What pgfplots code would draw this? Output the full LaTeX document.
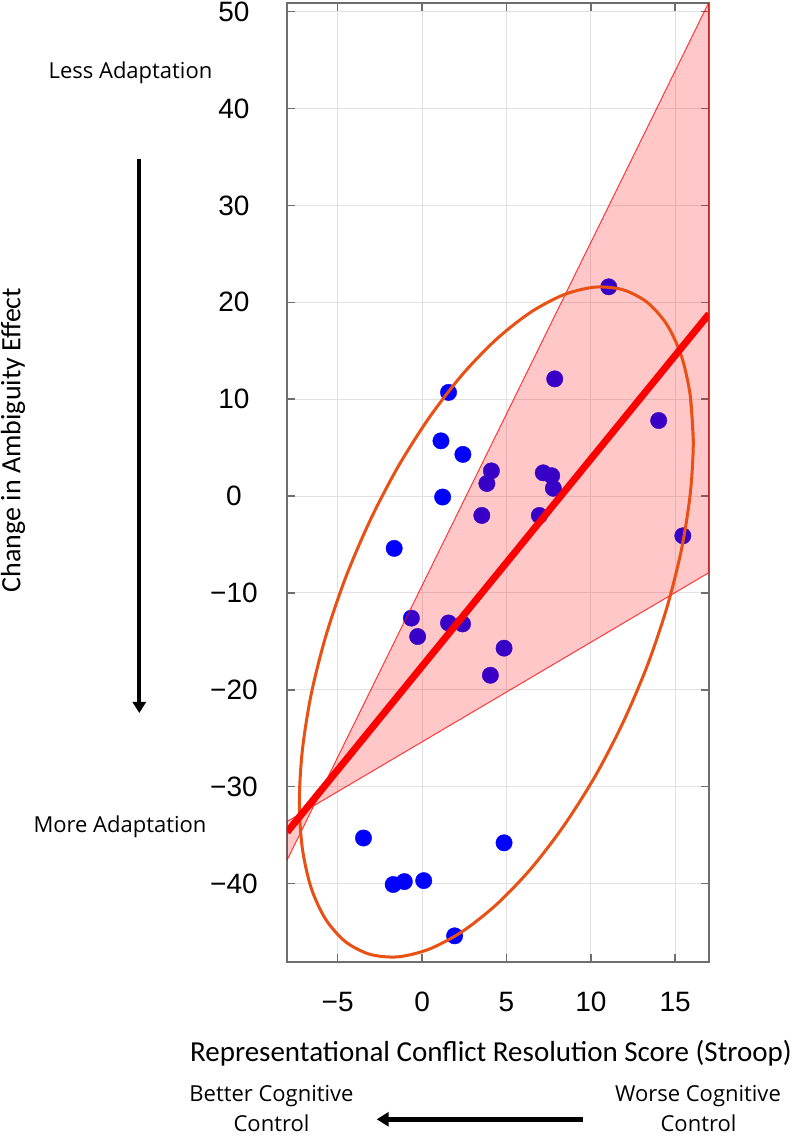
\documentclass[border=0pt]{standalone}
\usepackage{pgfplots}
\pgfplotsset{compat=1.18}
\usetikzlibrary{arrows.meta}
\usepackage{fontspec}
\setmainfont{Liberation Sans}
\newfontfamily\labfont{Carlito}
\newfontfamily\annfont{Open Sans}
\definecolor{gridgray}{RGB}{225,225,225}
\definecolor{axgray}{RGB}{110,110,110}
\definecolor{ellcol}{RGB}{232,80,20}
\definecolor{dotblue}{RGB}{0,0,255}
\begin{document}
\begin{tikzpicture}
\useasboundingbox (-143.5pt,-87pt) rectangle (256.5pt,481pt);
\begin{axis}[
  at={(0pt,0pt)}, anchor=south west,
  width=211pt, height=479.5pt, scale only axis,
  xmin=-8, xmax=17, ymin=-48.1, ymax=50.9,
  xtick={-5,0,5,10,15}, xticklabels={−5,0,5,10,15},
  ytick={-40,-30,-20,-10,0,10,20,30,40,50},
  yticklabels={−40,−30,−20,−10,0,10,20,30,40,50},
  tick align=inside, major tick length=4pt,
  grid=major, grid style={draw=gridgray, line width=0.5pt},
  axis line style={draw=axgray, line width=0.75pt},
  tick style={draw=axgray, line width=0.75pt},
  ticklabel style={font=\fontsize{14}{14}\selectfont},
  yticklabel style={anchor=center, xshift=-26.5pt},
  xticklabel style={anchor=center, yshift=-20pt},
  clip=true, clip marker paths=true,
]
\addplot[only marks, mark=*, mark size=4.1pt, color=dotblue, mark options={solid, fill=dotblue, draw=dotblue, line width=0.2pt}] coordinates {
(1.57,10.7) (1.12,5.7) (2.42,4.3) (4.11,2.6) (3.84,1.3) (1.22,-0.1) (3.54,-2.0)
(-1.65,-5.4) (7.86,12.1) (14.02,7.8) (7.18,2.4) (7.68,2.1) (7.78,0.8) (6.95,-2.0)
(15.45,-4.1) (-0.63,-12.6) (-0.26,-14.5) (1.57,-13.1) (2.40,-13.2) (4.86,-15.7)
(4.05,-18.5) (-3.47,-35.3) (4.86,-35.8) (-1.71,-40.1) (-1.05,-39.8) (0.1,-39.7)
(1.93,-45.4) (11.06,21.6)
};
\addplot[fill=red, fill opacity=0.22, draw=red, draw opacity=0.75, line width=0.5pt] coordinates {
(-8,-37.6) (17,51) (17,-7.9) (-8,-33.6)
} -- cycle;
\addplot[draw=ellcol, line width=1.5pt, smooth] coordinates {
(16.07,5.59) (15.89,10.38) (15.37,14.45) (14.51,17.69) (13.34,20.00) (11.90,21.30)
(10.24,21.57) (8.39,20.78) (6.43,18.97) (4.40,16.18) (2.37,12.51) (0.41,8.06)
(-1.44,2.97) (-3.10,-2.60) (-4.54,-8.48) (-5.71,-14.51) (-6.57,-20.49) (-7.09,-26.24)
(-7.27,-31.59) (-7.09,-36.38) (-6.57,-40.45) (-5.71,-43.69) (-4.54,-46.00) (-3.10,-47.30)
(-1.44,-47.57) (0.41,-46.78) (2.37,-44.97) (4.40,-42.18) (6.43,-38.51) (8.39,-34.06)
(10.24,-28.97) (11.90,-23.40) (13.34,-17.52) (14.51,-11.49) (15.37,-5.51) (15.89,0.24)
(16.07,5.59) (15.89,10.38)
};
\addplot[draw=red, line width=3.5pt] coordinates {(-8,-34.7) (17,18.8)};
\end{axis}
% annotations
\node[font=\annfont\fontsize{11}{13}\selectfont, anchor=base] at (-78.25pt,441.5pt) {Less Adaptation};
\node[font=\annfont\fontsize{11}{13}\selectfont, anchor=base] at (-83.5pt,64.5pt) {More Adaptation};
\draw[line width=2pt, -{Triangle[width=6.5pt,length=5.5pt]}] (-73.85pt,401.5pt) -- (-73.85pt,124.5pt);
\node[font=\labfont\fontsize{14}{16}\selectfont, rotate=90, anchor=center] at (-137pt,261pt) {Change in Ambiguity Effect};
\node[font=\labfont\fontsize{14.5}{16}\selectfont, anchor=base] at (102pt,-49.5pt) {Representational Conflict Resolution Score (Stroop)};
\node[font=\annfont\fontsize{11}{13}\selectfont, anchor=base] at (-7.75pt,-69.5pt) {Better Cognitive};
\node[font=\annfont\fontsize{11}{13}\selectfont, anchor=base] at (-7.75pt,-84.85pt) {Control};
\node[font=\annfont\fontsize{11}{13}\selectfont, anchor=base] at (205.5pt,-69.5pt) {Worse Cognitive};
\node[font=\annfont\fontsize{11}{13}\selectfont, anchor=base] at (205.75pt,-84.85pt) {Control};
\draw[line width=2.5pt, -{Triangle[width=7pt,length=6pt]}] (147.9pt,-78.65pt) -- (44.85pt,-78.65pt);
\end{tikzpicture}
\end{document}
